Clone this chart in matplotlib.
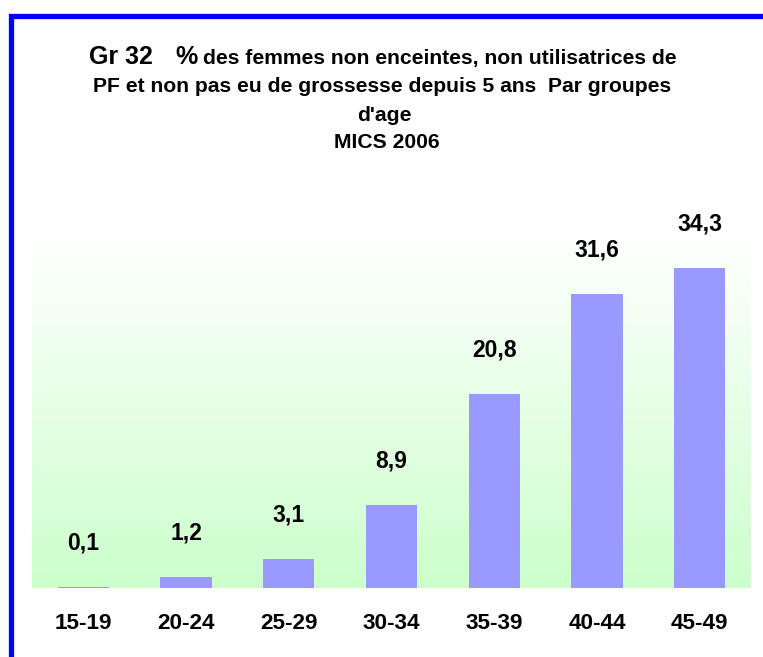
import numpy as np
import matplotlib.pyplot as plt
from matplotlib.patches import Rectangle
from matplotlib.colors import LinearSegmentedColormap

plt.rcParams['font.family'] = ['Liberation Sans', 'DejaVu Sans']

groupes = ['15-19', '20-24', '25-29', '30-34', '35-39', '40-44', '45-49']
pourcent = [0.1, 1.2, 3.1, 8.9, 20.8, 31.6, 34.3]
etiquettes = ['0,1', '1,2', '3,1', '8,9', '20,8', '31,6', '34,3']

W, H = 763, 657
fig = plt.figure(figsize=(W / 100, H / 100), dpi=100)

# plot area in pixels: x 32..751, y 232..588
ax = fig.add_axes([32 / W, 1 - 588 / H, (751 - 32) / W, (588 - 232) / H])
ymax = 38.2
x = np.arange(len(groupes))

# background gradient white -> light green
cmap = LinearSegmentedColormap.from_list('fond', ['#ffffff', '#ccffcc'])
grad = np.linspace(0, 1, 256).reshape(-1, 1)
ax.imshow(grad, aspect='auto', cmap=cmap, origin='upper',
          extent=[-0.5, len(groupes) - 0.5, 0, ymax], zorder=0)

ax.bar(x, pourcent, width=0.5, color='#9999ff', zorder=2)
for xi, v, lab in zip(x, pourcent, etiquettes):
    ax.annotate(lab, (xi, v), xytext=(0, 44), textcoords='offset pixels',
                ha='center', va='center', fontsize=16.5, fontweight='bold',
                annotation_clip=False)

ax.set_xlim(-0.5, len(groupes) - 0.5)
ax.set_ylim(0, ymax)
ax.set_xticks(x)
ax.set_xticklabels(groupes, fontsize=16.2, fontweight='bold')
ax.tick_params(axis='x', length=0, pad=18)
ax.set_yticks([])
for s in ax.spines.values():
    s.set_visible(False)

# title
fs = 15.2
fig.text(203 / W, 1 - 64 / H, 'des femmes non enceintes, non utilisatrices de',
         ha='left', va='baseline', fontsize=fs, fontweight='bold')
fig.text(89 / W, 1 - 64 / H, 'Gr 32', ha='left', va='baseline',
         fontsize=18, fontweight='bold')
fig.text(175 / W, 1 - 64 / H, '%', ha='left', va='baseline',
         fontsize=18, fontweight='bold')
cx = 382 / W
fig.text(cx, 1 - 92.5 / H, "PF et non pas eu de grossesse depuis 5 ans  Par groupes",
         ha='center', va='baseline', fontsize=fs, fontweight='bold')
fig.text(384 / W, 1 - 121 / H, "d'age", ha='center', va='baseline',
         fontsize=fs, fontweight='bold')
fig.text(387 / W, 1 - 148.5 / H, 'MICS 2006', ha='center', va='baseline',
         fontsize=fs, fontweight='bold')

# blue frame (cut by the image edges on the right and bottom)
fig.patches.append(Rectangle((10.5 / W, -0.1), 1.2, 1.1 - 15.5 / H,
                             transform=fig.transFigure, fill=False,
                             edgecolor='#0000ff', linewidth=3.8))

fig.savefig('out.png', dpi=100)
